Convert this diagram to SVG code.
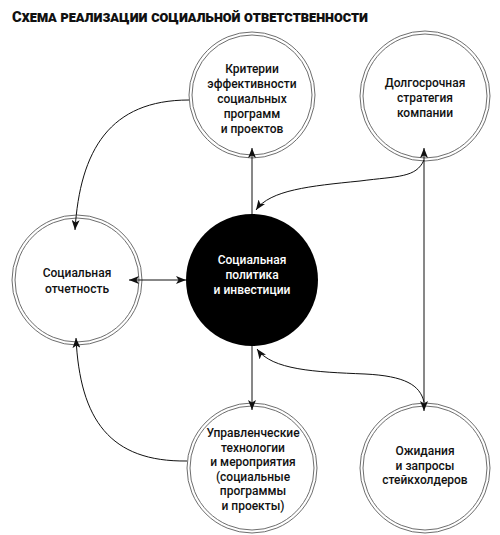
<svg xmlns="http://www.w3.org/2000/svg" width="500" height="535" viewBox="0 0 500 535">
<style>
.ring{fill:#fff;stroke:#6e6e6e;stroke-width:1}
.ring2{fill:none;stroke:#6e6e6e;stroke-width:1}
.lbl{font-family:Roboto,"Liberation Sans",sans-serif;font-size:12px;font-weight:500;fill:#111;text-anchor:middle}
.wl{fill:#fff}
.ttl{font-family:Roboto,"Liberation Sans",sans-serif;font-size:15.5px;font-weight:900;font-variant:small-caps;fill:#111}
.con{fill:none;stroke:#111;stroke-width:1}
</style>
<defs>
<marker id="ah" viewBox="0 0 10 8" refX="10" refY="4" markerWidth="10" markerHeight="8" markerUnits="userSpaceOnUse" orient="auto-start-reverse">
<path d="M0,0 L10,4 L0,8 L2.5,4 z" fill="#111"/>
</marker>
</defs>
<rect width="500" height="535" fill="#fff"/>
<text class="ttl" x="12" y="22" textLength="356" lengthAdjust="spacingAndGlyphs">Схема реализации социальной ответственности</text>

<g id="n-criteria">
<circle class="ring" cx="252" cy="95" r="63"/>
<circle class="ring2" cx="252" cy="95" r="60"/>
<text class="lbl"><tspan x="252" y="73">Критерии</tspan><tspan x="252" y="88">эффективности</tspan><tspan x="252" y="103">социальных</tspan><tspan x="252" y="118">программ</tspan><tspan x="252" y="133">и проектов</tspan></text>
</g>

<g id="n-strategy">
<circle class="ring" cx="425" cy="96" r="65"/>
<circle class="ring2" cx="425" cy="96" r="62"/>
<text class="lbl"><tspan x="425" y="87">Долгосрочная</tspan><tspan x="425" y="102">стратегия</tspan><tspan x="425" y="117">компании</tspan></text>
</g>

<g id="n-report">
<circle class="ring" cx="77" cy="280" r="65"/>
<circle class="ring2" cx="77" cy="280" r="62"/>
<text class="lbl"><tspan x="77" y="277">Социальная</tspan><tspan x="77" y="293">отчетность</tspan></text>
</g>

<g id="n-policy">
<circle cx="252" cy="280" r="66" fill="#000"/>
<text class="lbl wl"><tspan x="252" y="264">Социальная</tspan><tspan x="252" y="279">политика</tspan><tspan x="252" y="294">и инвестиции</tspan></text>
</g>

<g id="n-tech">
<circle class="ring" cx="252" cy="468" r="65"/>
<circle class="ring2" cx="252" cy="468" r="62"/>
<text class="lbl"><tspan x="253" y="437">Управленческие</tspan><tspan x="253" y="452">технологии</tspan><tspan x="253" y="466">и мероприятия</tspan><tspan x="253" y="481">(социальные</tspan><tspan x="253" y="495">программы</tspan><tspan x="253" y="510">и проекты)</tspan></text>
</g>

<g id="n-stake">
<circle class="ring" cx="425" cy="468" r="65"/>
<circle class="ring2" cx="425" cy="468" r="62"/>
<text class="lbl"><tspan x="425" y="455">Ожидания</tspan><tspan x="425" y="470">и запросы</tspan><tspan x="425" y="484">стейкхолдеров</tspan></text>
</g>

<g id="connectors">
<path class="con" d="M252,214 L252,148" marker-end="url(#ah)"/>
<path class="con" d="M424,160 C416,178 398,176 360,181 C310,186 270,190 256,210" marker-end="url(#ah)"/>
<path class="con" d="M424,161 L424,148" marker-end="url(#ah)"/>
<path class="con" d="M424,161 L424,411" marker-end="url(#ah)"/>
<path class="con" d="M424,402 C420,385 405,376 365,374 C315,372 272,370 257,349" marker-end="url(#ah)"/>
<path class="con" d="M252,346 L252,410" marker-end="url(#ah)"/>
<path class="con" d="M187,461 C110,462 80,420 76,338" marker-end="url(#ah)"/>
<path class="con" d="M189,100 C110,100 80,150 75,230" marker-end="url(#ah)"/>
<path class="con" d="M129,280 L186,280" marker-start="url(#ah)" marker-end="url(#ah)"/>
</g>
</svg>
